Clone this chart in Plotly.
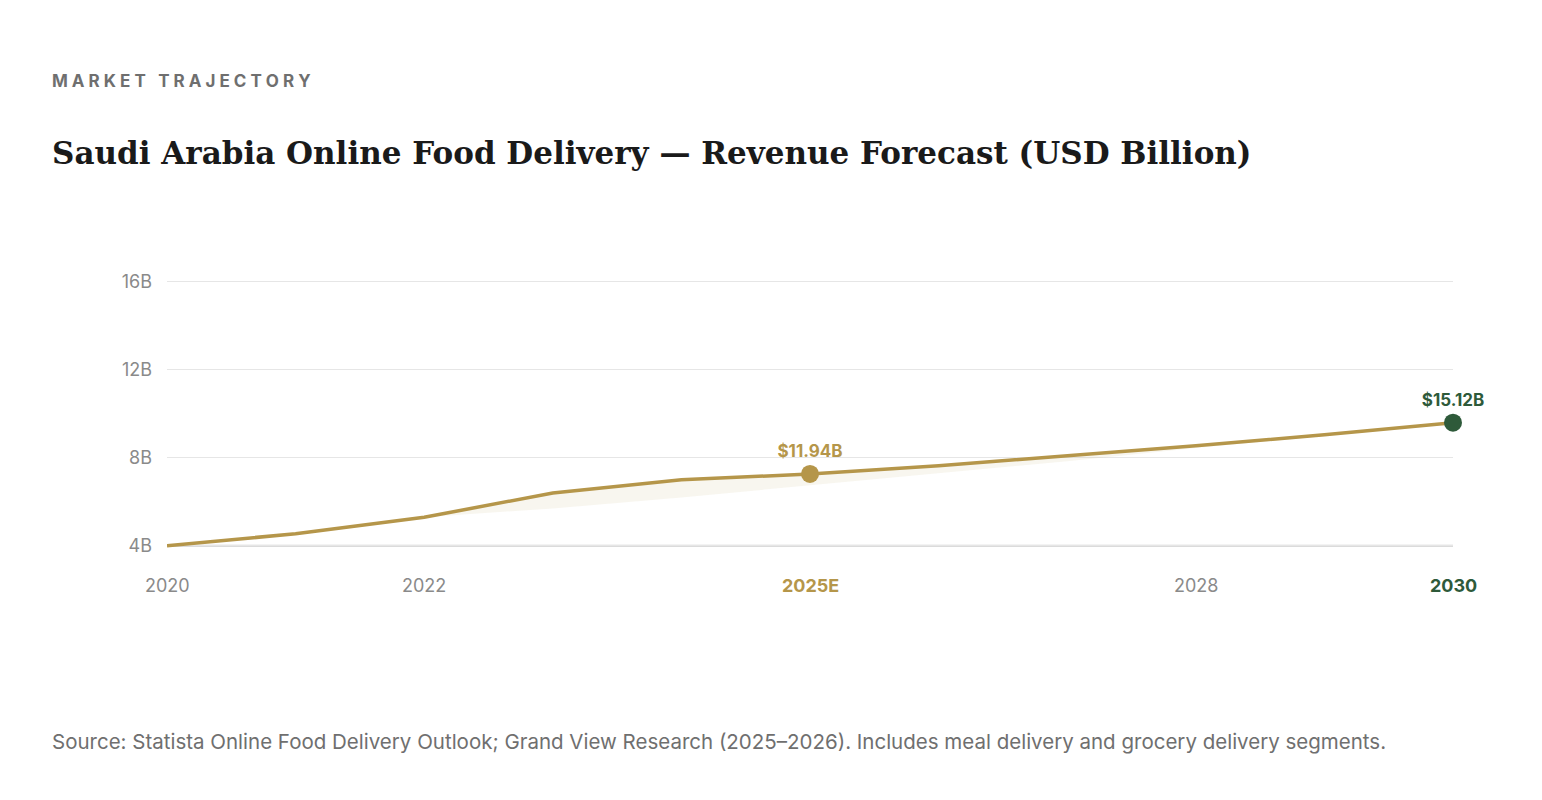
import plotly.graph_objects as go

years = [2020, 2021, 2022, 2023, 2024, 2025, 2026, 2027, 2028, 2029, 2030]
revenue = [4.0, 4.55, 5.3, 6.4, 7.0, 7.27, 7.64, 8.1, 8.55, 9.05, 9.6]
band_years = [2022, 2023, 2024, 2025, 2026, 2027, 2028, 2029, 2030]
band_low = [5.3, 5.7, 6.2, 6.75, 7.3, 7.85, 8.45, 9.0, 9.6]
y_ticks = [4, 8, 12, 16]
y_labels = ["4B", "8B", "12B", "16B"]
tick_years = [2020, 2022, 2025, 2028, 2030]
tick_labels = ["2020", "2022", "2025E", "2028", "2030"]
tick_colors = ["#8a8a8a", "#8a8a8a", "#b5964a", "#8a8a8a", "#2e5a3a"]
tick_bold = [False, False, True, False, True]

GOLD = "#b5964a"
GREEN = "#2e5a3a"

fig = go.Figure()
# light band under the line
fig.add_trace(go.Scatter(x=band_years, y=band_low, mode="lines", line=dict(width=0),
                         hoverinfo="skip", showlegend=False))
fig.add_trace(go.Scatter(x=band_years, y=[revenue[years.index(y)] for y in band_years],
                         mode="lines", line=dict(width=0), fill="tonexty",
                         fillcolor="rgba(181,150,74,0.09)", hoverinfo="skip", showlegend=False))
fig.add_trace(go.Scatter(x=years, y=revenue, mode="lines", line=dict(color=GOLD, width=3.5),
                         showlegend=False))
fig.add_trace(go.Scatter(x=[2025], y=[revenue[5]], mode="markers+text", text=["<b>$11.94B</b>"],
                         textposition="top center", textfont=dict(color=GOLD, size=17, family="Inter"),
                         marker=dict(color=GOLD, size=18), showlegend=False, cliponaxis=False))
fig.add_trace(go.Scatter(x=[2030], y=[revenue[10]], mode="markers+text", text=["<b>$15.12B</b>"],
                         textposition="top center", textfont=dict(color=GREEN, size=17, family="Inter"),
                         marker=dict(color=GREEN, size=18), showlegend=False, cliponaxis=False))

fig.add_shape(type="line", xref="paper", x0=0, x1=1, y0=4, y1=4, line=dict(color="#cfcfcf", width=2), layer="below")

for yv, lab, col, b in zip(tick_years, tick_labels, tick_colors, tick_bold):
    fig.add_annotation(x=yv, y=0, yref="paper", yshift=-50, text=f"<b>{lab}</b>" if b else lab,
                       showarrow=False, font=dict(color=col, size=18, family="Inter"))

H = 277
x0 = -117 / 1286
fig.add_annotation(xref="paper", yref="paper", x=x0, y=(547 - 80) / H, xanchor="left", yanchor="middle",
                   text="<b>M A R K E T   T R A J E C T O R Y</b>".replace("   ", " \u2002"), showarrow=False,
                   font=dict(color="#6f6f6f", size=17, family="Inter"))
fig.add_annotation(xref="paper", yref="paper", x=x0, y=(547 - 152) / H, xanchor="left", yanchor="middle",
                   text="<b>Saudi Arabia Online Food Delivery — Revenue Forecast (USD Billion)</b>", showarrow=False,
                   font=dict(color="#1a1a1a", size=31, family="DejaVu Serif"))
fig.add_annotation(xref="paper", yref="paper", x=x0, y=(547 - 740) / H, xanchor="left", yanchor="middle",
                   text="Source: Statista Online Food Delivery Outlook; Grand View Research (2025–2026). Includes meal delivery and grocery delivery segments.",
                   showarrow=False, font=dict(color="#6f6f6f", size=20.5, family="Inter"))

fig.update_layout(
    width=1542, height=800,
    paper_bgcolor="white", plot_bgcolor="white",
    margin=dict(l=159, r=97, t=263, b=260),
    xaxis=dict(range=[2020, 2030], showgrid=False, showticklabels=False, zeroline=False, fixedrange=True),
    yaxis=dict(range=[3.9, 16.5], tickvals=y_ticks, ticktext=y_labels, gridcolor="#e6e6e6",
               zeroline=False, tickfont=dict(color="#8a8a8a", size=18, family="Inter"), ticks="",
               ticklabelstandoff=14),
    font=dict(family="Inter"),
)

fig.write_html("out.html")
